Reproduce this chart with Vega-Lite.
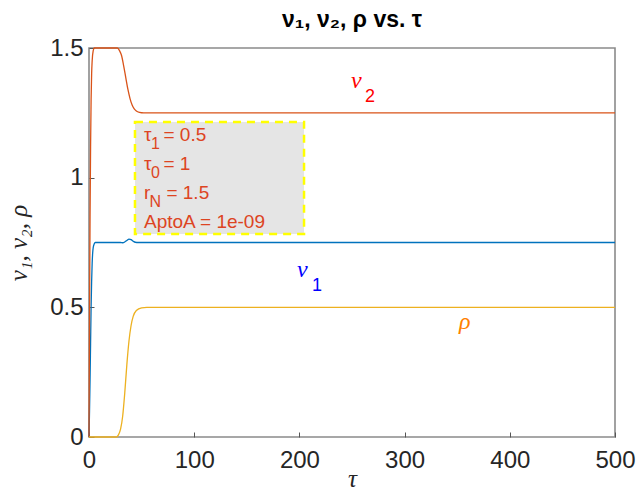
{
  "$schema": "https://vega.github.io/schema/vega-lite/v6.json",
  "width": 526,
  "height": 389,
  "autosize": {"type": "none"},
  "padding": {"left": 89, "top": 48, "right": 22, "bottom": 55},
  "background": "white",
  "title": {
    "text": "ν₁, ν₂, ρ vs. τ",
    "font": "Liberation Sans",
    "fontSize": 23,
    "fontWeight": "bold",
    "color": "#000000",
    "offset": 4,
    "anchor": "middle"
  },
  "config": {
    "view": {"stroke": "#8a8a8a", "strokeWidth": 1.6},
    "axis": {
      "grid": false,
      "domain": false,
      "labelFlush": false,
      "tickColor": "#555555",
      "tickSize": -5,
      "tickWidth": 1,
      "labelFont": "Liberation Sans",
      "labelFontSize": 24,
      "labelColor": "#262626",
      "titleFont": "Liberation Serif",
      "titleFontStyle": "italic",
      "titleFontWeight": "normal",
      "titleFontSize": 25,
      "titleColor": "#262626"
    }
  },
  "datasets": {
    "lines": [
      {"t": 0, "v": 0, "s": "nu1"},
      {"t": 0.5, "v": 0.1, "s": "nu1"},
      {"t": 1, "v": 0.22, "s": "nu1"},
      {"t": 1.5, "v": 0.36, "s": "nu1"},
      {"t": 2, "v": 0.5, "s": "nu1"},
      {"t": 2.5, "v": 0.6, "s": "nu1"},
      {"t": 3, "v": 0.67, "s": "nu1"},
      {"t": 3.5, "v": 0.71, "s": "nu1"},
      {"t": 4, "v": 0.73, "s": "nu1"},
      {"t": 5, "v": 0.745, "s": "nu1"},
      {"t": 6, "v": 0.75, "s": "nu1"},
      {"t": 30, "v": 0.75, "s": "nu1"},
      {"t": 32, "v": 0.749, "s": "nu1"},
      {"t": 34, "v": 0.752, "s": "nu1"},
      {"t": 36, "v": 0.758, "s": "nu1"},
      {"t": 38, "v": 0.763, "s": "nu1"},
      {"t": 40, "v": 0.761, "s": "nu1"},
      {"t": 42, "v": 0.755, "s": "nu1"},
      {"t": 44, "v": 0.751, "s": "nu1"},
      {"t": 47, "v": 0.75, "s": "nu1"},
      {"t": 500, "v": 0.75, "s": "nu1"},
      {"t": 0, "v": 0, "s": "nu2"},
      {"t": 0.5, "v": 0.45, "s": "nu2"},
      {"t": 1, "v": 0.85, "s": "nu2"},
      {"t": 1.5, "v": 1.12, "s": "nu2"},
      {"t": 2, "v": 1.3, "s": "nu2"},
      {"t": 2.5, "v": 1.4, "s": "nu2"},
      {"t": 3, "v": 1.45, "s": "nu2"},
      {"t": 4, "v": 1.49, "s": "nu2"},
      {"t": 5, "v": 1.5, "s": "nu2"},
      {"t": 27, "v": 1.5, "s": "nu2"},
      {"t": 29, "v": 1.49, "s": "nu2"},
      {"t": 31, "v": 1.47, "s": "nu2"},
      {"t": 33, "v": 1.43, "s": "nu2"},
      {"t": 35, "v": 1.385, "s": "nu2"},
      {"t": 37, "v": 1.34, "s": "nu2"},
      {"t": 39, "v": 1.305, "s": "nu2"},
      {"t": 41, "v": 1.28, "s": "nu2"},
      {"t": 43, "v": 1.265, "s": "nu2"},
      {"t": 45, "v": 1.257, "s": "nu2"},
      {"t": 48, "v": 1.252, "s": "nu2"},
      {"t": 52, "v": 1.25, "s": "nu2"},
      {"t": 500, "v": 1.25, "s": "nu2"},
      {"t": 0, "v": 0, "s": "rho"},
      {"t": 26, "v": 0, "s": "rho"},
      {"t": 28, "v": 0.008, "s": "rho"},
      {"t": 30, "v": 0.03, "s": "rho"},
      {"t": 32, "v": 0.08, "s": "rho"},
      {"t": 34, "v": 0.17, "s": "rho"},
      {"t": 36, "v": 0.28, "s": "rho"},
      {"t": 38, "v": 0.37, "s": "rho"},
      {"t": 40, "v": 0.43, "s": "rho"},
      {"t": 42, "v": 0.465, "s": "rho"},
      {"t": 45, "v": 0.488, "s": "rho"},
      {"t": 50, "v": 0.498, "s": "rho"},
      {"t": 55, "v": 0.5, "s": "rho"},
      {"t": 500, "v": 0.5, "s": "rho"}
    ],
    "box": [
      {"t": 43.7, "t2": 204.4, "v": 0.783, "v2": 1.215}
    ],
    "ann": [
      {"k": "boxmain", "t": 52.3, "v": 1.1414, "txt": "τ"},
      {"k": "boxsub", "t": 58.9, "v": 1.1105, "txt": "1"},
      {"k": "boxmain", "t": 70.8, "v": 1.1414, "txt": "= 0.5"},
      {"k": "boxmain", "t": 52.3, "v": 1.0296, "txt": "τ"},
      {"k": "boxsub", "t": 58.9, "v": 0.9987, "txt": "0"},
      {"k": "boxmain", "t": 70.8, "v": 1.0296, "txt": "= 1"},
      {"k": "boxmain", "t": 52.3, "v": 0.9177, "txt": "r"},
      {"k": "boxsub", "t": 57.5, "v": 0.8869, "txt": "N"},
      {"k": "boxmain", "t": 73.6, "v": 0.9177, "txt": "= 1.5"},
      {"k": "boxmain", "t": 52.3, "v": 0.8059, "txt": "AptoA = 1e-09"},
      {"k": "nu2", "t": 249.0, "v": 1.3458, "txt": "ν"},
      {"k": "nu2sub", "t": 262.3, "v": 1.2937, "txt": "2"},
      {"k": "nu1", "t": 197.7, "v": 0.617, "txt": "ν"},
      {"k": "nu1sub", "t": 211.9, "v": 0.563, "txt": "1"},
      {"k": "rho", "t": 351.7, "v": 0.4165, "txt": "ρ"}
    ]
  },
  "layer": [
    {
      "data": {"name": "lines"},
      "mark": {"type": "line", "strokeWidth": 1.3, "interpolate": "monotone"},
      "encoding": {
        "x": {"field": "t", "type": "quantitative", "scale": {"domain": [0, 500], "nice": false},
              "axis": {"title": "τ", "values": [0, 100, 200, 300, 400, 500], "labelPadding": 16, "titlePadding": -6}},
        "y": {"field": "v", "type": "quantitative", "scale": {"domain": [0, 1.5], "nice": false},
              "axis": {"title": "ν₁, ν₂, ρ", "values": [0, 0.5, 1, 1.5], "format": ".1~f", "labelPadding": 11, "titlePadding": 18}},
        "color": {"field": "s", "type": "nominal", "legend": null,
                  "scale": {"domain": ["nu1", "nu2", "rho"], "range": ["#0072BD", "#D95319", "#EDB120"]}},
        "order": {"field": "t", "type": "quantitative"}
      }
    },
    {
      "data": {"name": "box"},
      "mark": {"type": "rect", "fill": "#E5E5E5", "stroke": "#FFFF00", "strokeWidth": 2.5, "strokeDash": [8, 6]},
      "encoding": {
        "x": {"field": "t", "type": "quantitative"},
        "x2": {"field": "t2"},
        "y": {"field": "v", "type": "quantitative"},
        "y2": {"field": "v2"}
      }
    },
    {
      "data": {"name": "ann"},
      "transform": [{"filter": "datum.k == 'boxmain'"}],
      "mark": {"type": "text", "align": "left", "baseline": "alphabetic", "font": "Liberation Sans", "fontSize": 19, "color": "#DD4422"},
      "encoding": {
        "x": {"field": "t", "type": "quantitative"},
        "y": {"field": "v", "type": "quantitative"},
        "text": {"field": "txt"}
      }
    },
    {
      "data": {"name": "ann"},
      "transform": [{"filter": "datum.k == 'boxsub'"}],
      "mark": {"type": "text", "align": "left", "baseline": "alphabetic", "font": "Liberation Sans", "fontSize": 16, "color": "#DD4422"},
      "encoding": {
        "x": {"field": "t", "type": "quantitative"},
        "y": {"field": "v", "type": "quantitative"},
        "text": {"field": "txt"}
      }
    },
    {
      "data": {"name": "ann"},
      "transform": [{"filter": "datum.k == 'nu2'"}],
      "mark": {"type": "text", "align": "left", "baseline": "alphabetic", "font": "Liberation Serif", "fontStyle": "italic", "fontSize": 24, "color": "#FF0000"},
      "encoding": {
        "x": {"field": "t", "type": "quantitative"},
        "y": {"field": "v", "type": "quantitative"},
        "text": {"field": "txt"}
      }
    },
    {
      "data": {"name": "ann"},
      "transform": [{"filter": "datum.k == 'nu2sub'"}],
      "mark": {"type": "text", "align": "left", "baseline": "alphabetic", "font": "Liberation Sans", "fontSize": 18, "color": "#FF0000"},
      "encoding": {
        "x": {"field": "t", "type": "quantitative"},
        "y": {"field": "v", "type": "quantitative"},
        "text": {"field": "txt"}
      }
    },
    {
      "data": {"name": "ann"},
      "transform": [{"filter": "datum.k == 'nu1'"}],
      "mark": {"type": "text", "align": "left", "baseline": "alphabetic", "font": "Liberation Serif", "fontStyle": "italic", "fontSize": 24, "color": "#0000FF"},
      "encoding": {
        "x": {"field": "t", "type": "quantitative"},
        "y": {"field": "v", "type": "quantitative"},
        "text": {"field": "txt"}
      }
    },
    {
      "data": {"name": "ann"},
      "transform": [{"filter": "datum.k == 'nu1sub'"}],
      "mark": {"type": "text", "align": "left", "baseline": "alphabetic", "font": "Liberation Sans", "fontSize": 18, "color": "#0000FF"},
      "encoding": {
        "x": {"field": "t", "type": "quantitative"},
        "y": {"field": "v", "type": "quantitative"},
        "text": {"field": "txt"}
      }
    },
    {
      "data": {"name": "ann"},
      "transform": [{"filter": "datum.k == 'rho'"}],
      "mark": {"type": "text", "align": "left", "baseline": "alphabetic", "font": "Liberation Serif", "fontStyle": "italic", "fontSize": 24, "color": "#FF8000"},
      "encoding": {
        "x": {"field": "t", "type": "quantitative"},
        "y": {"field": "v", "type": "quantitative"},
        "text": {"field": "txt"}
      }
    }
  ]
}
